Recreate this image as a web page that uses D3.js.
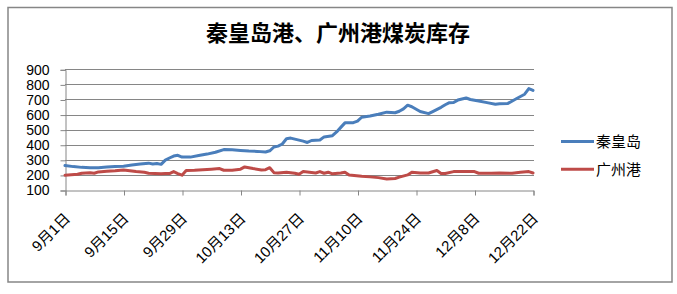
<!DOCTYPE html>
<html>
<head>
<meta charset="utf-8">
<script src="https://cdn.jsdelivr.net/npm/d3@7"></script>
<style>
  html, body { margin: 0; padding: 0; background: #fff; }
  svg { display: block; }
</style>
</head>
<body>
<svg id="chart"></svg>
<script>
(function () {
  'use strict';

  var year = 2013;

  // 秦皇岛
  var qhdDates = ['9-1','9-3','9-5','9-7','9-9','9-11','9-13','9-15','9-17','9-19','9-21','9-22','9-23','9-24',
    '9-25','9-26','9-27','9-28','9-29','10-1','10-3','10-5','10-7','10-9','10-11','10-13','10-15','10-17',
    '10-19','10-20','10-21','10-22','10-23','10-24','10-25','10-26','10-28','10-29','10-30','11-1','11-2',
    '11-4','11-5','11-6','11-7','11-9','11-10','11-11','11-13','11-15','11-17','11-19','11-20','11-21',
    '11-22','11-23','11-25','11-27','11-28','11-30','12-1','12-2','12-3','12-4','12-6','12-7','12-9',
    '12-11','12-13','12-14','12-16','12-18','12-20','12-21','12-22'];
  var qhdValues = [262,255,250,247,248,252,255,258,265,272,278,272,276,270,
    298,312,325,330,318,318,328,338,350,368,366,362,358,356,
    352,360,385,391,405,440,444,437,424,415,428,432,452,
    460,485,515,545,546,556,582,590,602,616,612,622,638,
    662,652,620,606,620,648,665,679,680,696,710,700,690,
    679,668,672,674,705,735,772,760];

  // 广州港
  var gzDates = ['9-1','9-4','9-5','9-7','9-8','9-9','9-11','9-13','9-15','9-17','9-18','9-20','9-21','9-24',
    '9-25','9-26','9-27','9-28','9-29','9-30','10-2','10-4','10-6','10-8','10-9','10-11','10-13','10-14',
    '10-16','10-18','10-19','10-20','10-21','10-22','10-24','10-26','10-27','10-28','10-30','10-31','11-1',
    '11-2','11-3','11-4','11-6','11-7','11-8','11-11','11-13','11-15','11-17','11-19','11-20','11-22',
    '11-23','11-25','11-27','11-29','11-30','12-1','12-3','12-5','12-8','12-9','12-12','12-14','12-17',
    '12-19','12-21','12-22'];
  var gzValues = [198,204,211,215,211,220,224,227,233,226,222,218,211,207,
    209,209,222,209,198,229,231,235,238,242,231,231,238,253,
    242,233,235,248,215,213,218,211,204,222,216,213,222,
    211,218,207,213,218,200,191,187,182,173,176,185,200,
    218,213,213,229,209,209,222,222,222,211,211,213,211,
    218,222,213];

  var tickDates = ['9-1','9-15','9-29','10-13','10-27','11-10','11-24','12-8','12-22'];
  var tickLabels = ['9月1日','9月15日','9月29日','10月13日','10月27日','11月10日','11月24日','12月8日','12月22日'];
  var yTicks = [100,200,300,400,500,600,700,800,900];

  var seriesNames = ['秦皇岛','广州港'];
  var seriesColors = ['#4A7EBB','#BE4B48'];

  var parse = function (s) {
    var p = s.split('-');
    return new Date(year, +p[0] - 1, +p[1]);
  };

  var width = 677, height = 294;
  var plot = {left: 65, right: 533, top: 69.3, bottom: 190};

  var svg = d3.select('#chart')
    .attr('width', width)
    .attr('height', height);

  svg.append('rect')
    .attr('width', width)
    .attr('height', height)
    .attr('fill', '#fff');

  // chart frame
  svg.append('rect')
    .attr('x', 8)
    .attr('y', 7.5)
    .attr('width', 664)
    .attr('height', 274.5)
    .attr('fill', '#fff')
    .attr('stroke', '#868686')
    .attr('stroke-width', 1.5);

  svg.append('text')
    .attr('x', 338)
    .attr('y', 41)
    .attr('text-anchor', 'middle')
    .style('font-family', '"Noto Sans CJK SC", sans-serif')
    .style('font-size', '22px')
    .style('font-weight', 'bold')
    .attr('fill', '#000')
    .text('秦皇岛港、广州港煤炭库存');

  var x = d3.scaleTime()
    .domain([parse(tickDates[0]), parse(tickDates[tickDates.length - 1])])
    .range([plot.left, plot.right]);
  var y = d3.scaleLinear()
    .domain([100, 900])
    .range([plot.bottom, plot.top]);

  var g = svg.append('g');

  // gridlines
  g.selectAll('.grid')
    .data(yTicks.slice(1))
    .enter()
    .append('line')
    .attr('class', 'grid')
    .attr('x1', plot.left)
    .attr('x2', plot.right + 1)
    .attr('y1', function (d) { return Math.round(y(d)) + 0.5; })
    .attr('y2', function (d) { return Math.round(y(d)) + 0.5; })
    .attr('stroke', '#868686')
    .attr('stroke-width', 1);

  // y axis
  var yAxis = g.append('g')
    .attr('transform', 'translate(' + (plot.left + 0.5) + ',0.5)')
    .call(d3.axisLeft(y).tickValues(yTicks).tickSize(5).tickPadding(11));
  yAxis.select('.domain').attr('stroke', '#868686');
  yAxis.selectAll('.tick line').attr('stroke', '#868686');
  yAxis.selectAll('.tick text')
    .style('font-family', '"Liberation Sans", sans-serif')
    .style('font-size', '14px')
    .attr('fill', '#000');

  // x axis
  var xAxis = g.append('g')
    .attr('transform', 'translate(0.5,' + (Math.round(plot.bottom) + 0.5) + ')')
    .call(d3.axisBottom(x)
      .tickValues(tickDates.map(parse))
      .tickSize(5)
      .tickFormat(function (d, i) { return tickLabels[i]; }));
  xAxis.select('.domain').attr('stroke', '#868686');
  xAxis.selectAll('.tick line').attr('stroke', '#868686');
  xAxis.selectAll('.tick text')
    .attr('y', 0)
    .attr('dy', 0)
    .attr('transform', 'translate(5,29) rotate(-45)')
    .attr('text-anchor', 'end')
    .style('font-family', '"Liberation Sans", "Noto Sans CJK SC", sans-serif')
    .style('font-size', '15px')
    .attr('fill', '#000');

  var line = d3.line()
    .x(function (d) { return x(d.date); })
    .y(function (d) { return y(d.value); });

  var series = [
    qhdDates.map(function (d, i) { return {date: parse(d), value: qhdValues[i]}; }),
    gzDates.map(function (d, i) { return {date: parse(d), value: gzValues[i]}; })
  ];

  // red first so blue sits above where they meet
  [1, 0].forEach(function (i) {
    g.append('path')
      .datum(series[i])
      .attr('d', line)
      .attr('fill', 'none')
      .attr('stroke', seriesColors[i])
      .attr('stroke-width', 3)
      .attr('stroke-linejoin', 'round')
      .attr('stroke-linecap', 'round');
  });

  // legend
  var legend = svg.append('g')
    .selectAll('g')
    .data(seriesNames)
    .enter()
    .append('g')
    .attr('transform', function (d, i) { return 'translate(561,' + (141.5 + i * 27.7) + ')'; });
  legend.append('line')
    .attr('x1', 0)
    .attr('x2', 33)
    .attr('stroke', function (d, i) { return seriesColors[i]; })
    .attr('stroke-width', 3);
  legend.append('text')
    .attr('x', 35)
    .attr('dy', '0.36em')
    .style('font-family', '"Noto Sans CJK SC", sans-serif')
    .style('font-size', '15px')
    .attr('fill', '#000')
    .text(function (d) { return d; });
}());
</script>
</body>
</html>
